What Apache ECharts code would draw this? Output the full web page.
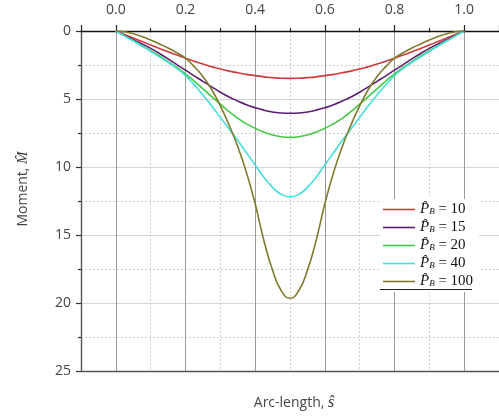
<!DOCTYPE html>
<html>
<head>
<meta charset="utf-8">
<script src="https://cdn.jsdelivr.net/npm/echarts@6/dist/echarts.min.js"></script>
<style>
  html, body { margin: 0; padding: 0; background: #fff; }
  #chart { width: 499px; height: 416px; }
</style>
</head>
<body>
<div id="chart"></div>
<script>
// Arc-length positions along the member
const arcLength = [0, 0.025, 0.05, 0.075, 0.1, 0.125, 0.15, 0.175, 0.2, 0.225,
                   0.25, 0.275, 0.3, 0.325, 0.35, 0.375, 0.4, 0.425, 0.45, 0.475,
                   0.5, 0.525, 0.55, 0.575, 0.6, 0.625, 0.65, 0.675, 0.7, 0.725,
                   0.75, 0.775, 0.8, 0.825, 0.85, 0.875, 0.9, 0.925, 0.95, 0.975, 1.0];

// Bending moment for each load level P_B
const momentP10 = [0, 0.26, 0.52, 0.78, 1.03, 1.28, 1.53, 1.77, 2.0, 2.22,
                   2.43, 2.62, 2.8, 2.95, 3.07, 3.19, 3.28, 3.37, 3.43, 3.47,
                   3.48, 3.47, 3.43, 3.37, 3.28, 3.19, 3.07, 2.95, 2.8, 2.62,
                   2.43, 2.22, 2.0, 1.77, 1.53, 1.28, 1.03, 0.78, 0.52, 0.26, 0];
const momentP15 = [0, 0.32, 0.64, 0.95, 1.28, 1.65, 2.05, 2.47, 2.88, 3.3,
                   3.7, 4.11, 4.5, 4.85, 5.15, 5.42, 5.64, 5.82, 5.95, 6.03,
                   6.05, 6.03, 5.95, 5.82, 5.64, 5.42, 5.15, 4.85, 4.5, 4.11,
                   3.7, 3.3, 2.88, 2.47, 2.05, 1.65, 1.28, 0.95, 0.64, 0.32, 0];
const momentP20 = [0, 0.36, 0.72, 1.08, 1.45, 1.84, 2.25, 2.68, 3.15, 3.68,
                   4.25, 4.82, 5.38, 5.93, 6.42, 6.83, 7.15, 7.44, 7.65, 7.78,
                   7.82, 7.78, 7.65, 7.44, 7.15, 6.83, 6.42, 5.93, 5.38, 4.82,
                   4.25, 3.68, 3.15, 2.68, 2.25, 1.84, 1.45, 1.08, 0.72, 0.36, 0];
const momentP40 = [0, 0.36, 0.72, 1.1, 1.5, 1.9, 2.3, 2.75, 3.28, 3.95,
                   4.7, 5.5, 6.35, 7.2, 8.05, 8.95, 9.85, 10.75, 11.5, 12.02,
                   12.2, 12.02, 11.5, 10.75, 9.85, 8.95, 8.05, 7.2, 6.35, 5.5,
                   4.7, 3.95, 3.28, 2.75, 2.3, 1.9, 1.5, 1.1, 0.72, 0.36, 0];
const momentP100 = [0, 0.06, 0.2, 0.4, 0.66, 0.95, 1.25, 1.6, 2.0, 2.62,
                    3.35, 4.3, 5.5, 6.9, 8.5, 10.4, 12.7, 15.4, 17.6, 19.1,
                    19.65, 19.1, 17.6, 15.4, 12.7, 10.4, 8.5, 6.9, 5.5, 4.3,
                    3.35, 2.62, 2.0, 1.6, 1.25, 0.95, 0.66, 0.4, 0.2, 0.06, 0];

const loadLabels = ['10', '15', '20', '40', '100'];
const loadSeries = [momentP10, momentP15, momentP20, momentP40, momentP100];
const loadColors = ['#cf3a3a', '#5e1d72', '#44c944', '#45dcdc', '#7f7b2c'];

const yTicks = { min: 0, max: 25, interval: 5 };

const chart = echarts.init(document.getElementById('chart'), null, { renderer: 'canvas' });

const serif = 'Liberation Serif';
const sans = 'Open Sans';

const series = loadSeries.map((vals, i) => ({
  name: loadLabels[i],
  type: 'line',
  xAxisIndex: 0,
  yAxisIndex: 0,
  smooth: true,
  symbol: 'none',
  showSymbol: false,
  lineStyle: { color: loadColors[i], width: 1.6 },
  itemStyle: { color: loadColors[i] },
  data: arcLength.map((s, k) => [s, vals[k]])
}));

chart.setOption({
  animation: false,
  backgroundColor: '#fff',
  grid: { left: 81, top: 31, width: 420, height: 343, containLabel: false },
  legend: {
    data: loadLabels,
    orient: 'vertical',
    left: 380,
    top: 199,
    backgroundColor: '#fff',
    padding: [3, 6, 3, 3],
    itemGap: 3,
    icon: 'rect',
    itemWidth: 32,
    itemHeight: 1.6,
    formatter: name => '{p|P\u0302}{b|B}{t| = ' + name + '}',
    textStyle: {
      color: '#111',
      rich: {
        p: { fontFamily: serif, fontStyle: 'italic', fontSize: 15, lineHeight: 14 },
        b: { fontFamily: serif, fontStyle: 'italic', fontSize: 9, verticalAlign: 'bottom', lineHeight: 14 },
        t: { fontFamily: serif, fontSize: 15, lineHeight: 14 }
      }
    }
  },
  graphic: [{
    type: 'line',
    z: 100,
    shape: { x1: 380, y1: 289.5, x2: 472, y2: 289.5 },
    style: { stroke: '#222', lineWidth: 1.2 }
  }],
  xAxis: [{
    type: 'value',
    position: 'top',
    min: -0.1,
    max: 1.1,
    splitNumber: 6,
    axisLine: { show: true, onZero: false, lineStyle: { color: '#111', width: 1.4 } },
    axisTick: { show: true, inside: false, length: 6, lineStyle: { color: '#222', width: 1.2 } },
    minorTick: { show: true, splitNumber: 2, length: 3, lineStyle: { color: '#222', width: 1.2 } },
    axisLabel: {
      show: true, margin: 14, fontFamily: sans, fontSize: 14, color: '#444',
      showMinLabel: false, showMaxLabel: false,
      formatter: v => v.toFixed(1)
    },
    splitLine: { show: true, lineStyle: { color: '#9a9a9a', width: 1 } },
    minorSplitLine: { show: true, lineStyle: { color: '#cfcfcf', width: 1, type: [2, 2] } }
  }, {
    type: 'value',
    position: 'bottom',
    min: -0.1,
    max: 1.1,
    axisLine: { show: true, onZero: false, lineStyle: { color: '#555', width: 1.4 } },
    axisTick: { show: false },
    axisLabel: { show: false },
    splitLine: { show: false },
    name: '{a|Arc-length, }{s|s\u0302}',
    nameLocation: 'middle',
    nameGap: 24,
    nameTextStyle: {
      padding: [0, 0, 0, 8],
      rich: {
        a: { fontFamily: sans, fontSize: 14, color: '#444' },
        s: { fontFamily: serif, fontStyle: 'italic', fontSize: 16, color: '#333' }
      }
    }
  }],
  yAxis: [{
    type: 'value',
    inverse: true,
    min: yTicks.min,
    max: yTicks.max,
    interval: yTicks.interval,
    axisLine: { show: true, onZero: false, lineStyle: { color: '#555', width: 1.4 } },
    axisTick: { show: true, inside: false, length: 5, lineStyle: { color: '#333', width: 1.2 } },
    minorTick: { show: true, splitNumber: 2, length: 3, lineStyle: { color: '#333', width: 1.2 } },
    axisLabel: { margin: 10, fontFamily: sans, fontSize: 14, color: '#444' },
    splitLine: { show: true, lineStyle: { color: '#d6d6d6', width: 1 } },
    minorSplitLine: { show: true, lineStyle: { color: '#d0d0d0', width: 1, type: [2, 2] } },
    name: '{a|Moment, }{m|M\u0302}',
    nameLocation: 'middle',
    nameGap: 50,
    nameTextStyle: {
      padding: [0, 0, 0, 24],
      rich: {
        a: { fontFamily: sans, fontSize: 14, color: '#444' },
        m: { fontFamily: serif, fontStyle: 'italic', fontSize: 15, color: '#333' }
      }
    }
  }],
  series: series
});
</script>
</body>
</html>
